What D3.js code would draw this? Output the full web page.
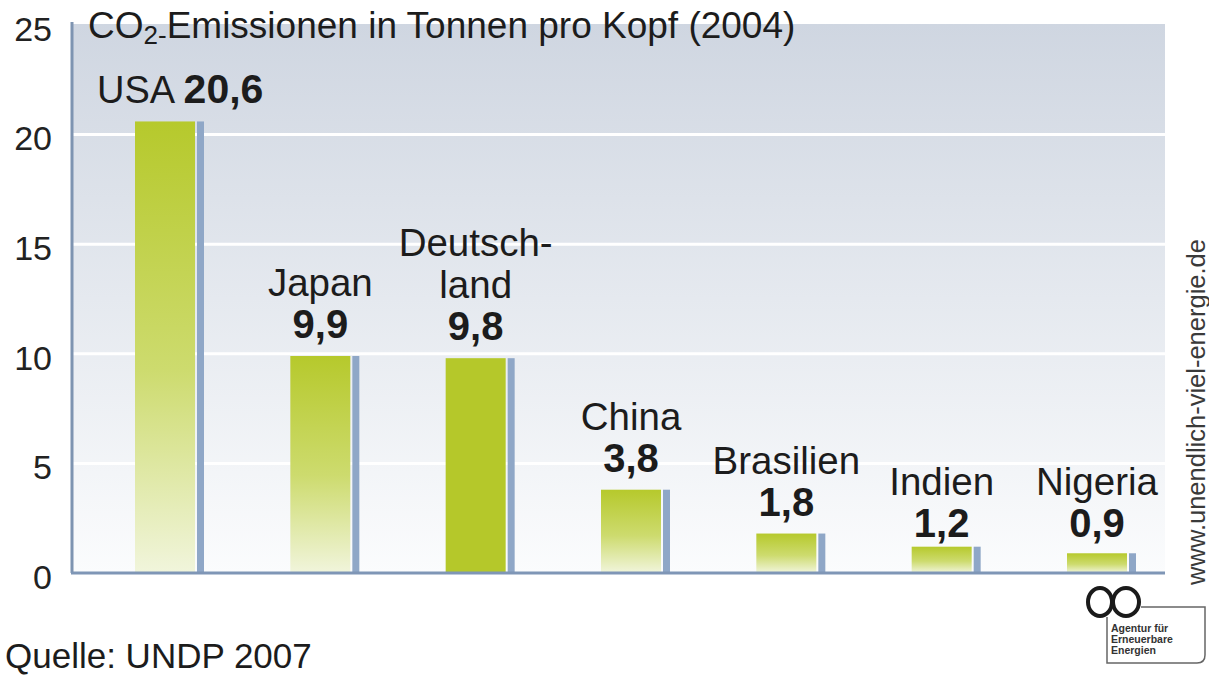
<!DOCTYPE html>
<html>
<head>
<meta charset="utf-8">
<script src="https://cdn.jsdelivr.net/npm/d3@7"></script>
<style>
    body { margin: 0; background: #fff; }
    svg { display: block; font-family: "Liberation Sans", Arial, sans-serif; }
</style>
</head>
<body>
<div id="chart"></div>
<script>
const countries = [`USA`, `Japan`, `Deutschland`, `China`, `Brasilien`, `Indien`, `Nigeria`]
const nameLines = [[`USA`], [`Japan`], [`Deutsch-`, `land`], [`China`], [`Brasilien`], [`Indien`], [`Nigeria`]]
const values = [20.6, 9.9, 9.8, 3.8, 1.8, 1.2, 0.9]
const yTicks = [0, 5, 10, 15, 20, 25]

const width = 1209, height = 675
const plot = { left: 72, right: 1165, top: 24, bottom: 573 }

const de = d3.formatLocale({ decimal: `,`, thousands: `.`, grouping: [3], currency: [``, ` €`] })
const fmt = de.format(`.1f`)

const svg = d3.select(`#chart`).append(`svg`)
    .attr(`width`, width).attr(`height`, height)

const defs = svg.append(`defs`)

const bg = defs.append(`linearGradient`).attr(`id`, `bg`)
    .attr(`x1`, 0).attr(`y1`, 0).attr(`x2`, 0).attr(`y2`, 1)
bg.append(`stop`).attr(`offset`, 0).attr(`stop-color`, `#cfd6e1`)
bg.append(`stop`).attr(`offset`, 0.5).attr(`stop-color`, `#e5e9ef`)
bg.append(`stop`).attr(`offset`, 1).attr(`stop-color`, `#fbfcfd`)

const fade = defs.append(`linearGradient`).attr(`id`, `fade`)
    .attr(`x1`, 0).attr(`y1`, 0).attr(`x2`, 0).attr(`y2`, 1)
fade.append(`stop`).attr(`offset`, 0).attr(`stop-color`, `#b6c92c`)
fade.append(`stop`).attr(`offset`, 0.55).attr(`stop-color`, `#cddb6e`)
fade.append(`stop`).attr(`offset`, 1).attr(`stop-color`, `#f1f5dc`)

const y = d3.scaleLinear().domain([0, 25]).range([plot.bottom, plot.top + 1])
const x = d3.scalePoint().domain(countries).range([165, 1097])

const barW = 60

// plot background
svg.append(`rect`)
    .attr(`x`, plot.left).attr(`y`, plot.top)
    .attr(`width`, plot.right - plot.left).attr(`height`, plot.bottom - plot.top)
    .attr(`fill`, `url(#bg)`)

// white gridlines
svg.append(`g`).selectAll(`line`)
    .data(yTicks.filter(t => t > 0 && t < 25))
    .join(`line`)
    .attr(`x1`, plot.left).attr(`x2`, plot.right)
    .attr(`y1`, d => y(d)).attr(`y2`, d => y(d))
    .attr(`stroke`, `#fff`).attr(`stroke-width`, 3)

// y axis labels
const yAxis = svg.append(`g`)
    .attr(`transform`, `translate(${plot.left},0)`)
    .call(d3.axisLeft(y).tickValues(yTicks).tickSize(0).tickPadding(20).tickFormat(d3.format(`d`)))
yAxis.select(`.domain`).remove()
yAxis.selectAll(`text`)
    .attr(`font-size`, 34).attr(`fill`, `#222`)
    .attr(`font-family`, `"Liberation Sans", Arial, sans-serif`)
    .attr(`dy`, `0.45em`)

svg.append(`line`)
    .attr(`x1`, plot.left).attr(`x2`, plot.left)
    .attr(`y1`, 22).attr(`y2`, plot.bottom)
    .attr(`stroke`, `#7e94b1`).attr(`stroke-width`, 3)

const data = countries.map((c, i) => ({ c, v: values[i], lines: nameLines[i] }))

const bars = svg.append(`g`).selectAll(`g`).data(data).join(`g`)

bars.append(`rect`)
    .attr(`x`, d => x(d.c) - barW / 2)
    .attr(`y`, d => y(d.v))
    .attr(`width`, barW)
    .attr(`height`, d => y(0) - y(d.v))
    .attr(`fill`, d => d.c === `Deutschland` ? `#b5c82a` : `url(#fade)`)

bars.append(`rect`)
    .attr(`x`, d => x(d.c) + barW / 2 + 2)
    .attr(`y`, d => y(d.v))
    .attr(`width`, 7)
    .attr(`height`, d => y(0) - y(d.v))
    .attr(`fill`, `#8fa7c7`)

// baseline
svg.append(`line`)
    .attr(`x1`, plot.left - 1).attr(`x2`, plot.right)
    .attr(`y1`, y(0)).attr(`y2`, y(0))
    .attr(`stroke`, `#7f96b6`).attr(`stroke-width`, 3)

// labels
const valueBase = d => d.v < 1.5 ? y(0) - 36 : y(d.v) - 18

bars.each(function(d) {
    const g = d3.select(this)
    const base = valueBase(d)
    if (d.c === `USA`) {
        const t = g.append(`text`)
            .attr(`x`, x(d.c) - 68).attr(`y`, base)
            .attr(`fill`, `#1c1c1c`)
        t.append(`tspan`).attr(`font-size`, 38).text(d.lines[0] + ` `)
        t.append(`tspan`).attr(`font-size`, 41).attr(`font-weight`, `bold`).text(fmt(d.v))
        return
    }
    g.append(`text`)
        .attr(`x`, x(d.c)).attr(`y`, base)
        .attr(`text-anchor`, `middle`)
        .attr(`font-size`, 40).attr(`font-weight`, `bold`).attr(`fill`, `#1c1c1c`)
        .text(fmt(d.v))
    d.lines.slice().reverse().forEach((line, k) => {
        g.append(`text`)
            .attr(`x`, x(d.c)).attr(`y`, base - 42 * (k + 1))
            .attr(`text-anchor`, `middle`)
            .attr(`font-size`, 38.5).attr(`fill`, `#1c1c1c`)
            .text(line)
    })
})

// title
const title = svg.append(`text`)
    .attr(`x`, 88).attr(`y`, 38)
    .attr(`font-size`, 37).attr(`fill`, `#1c1c1c`)
title.append(`tspan`).text(`CO`)
title.append(`tspan`).attr(`font-size`, 26).attr(`dy`, 6).text(`2-`)
title.append(`tspan`).attr(`dy`, -6).text(`Emissionen in Tonnen pro Kopf (2004)`)

// source
svg.append(`text`)
    .attr(`x`, 5).attr(`y`, 668)
    .attr(`font-size`, 35).attr(`fill`, `#1c1c1c`)
    .text(`Quelle: UNDP 2007`)

// vertical url
svg.append(`text`)
    .attr(`transform`, `translate(1205,412) rotate(-90)`)
    .attr(`text-anchor`, `middle`)
    .attr(`font-size`, 25.5).attr(`fill`, `#3a3a3a`)
    .text(`www.unendlich-viel-energie.de`)

// logo
const logo = svg.append(`g`)
logo.append(`ellipse`).attr(`cx`, 1100).attr(`cy`, 602).attr(`rx`, 12).attr(`ry`, 14)
    .attr(`fill`, `none`).attr(`stroke`, `#1a1a1a`).attr(`stroke-width`, 4)
logo.append(`ellipse`).attr(`cx`, 1126).attr(`cy`, 602).attr(`rx`, 13).attr(`ry`, 14)
    .attr(`fill`, `none`).attr(`stroke`, `#1a1a1a`).attr(`stroke-width`, 4)
logo.append(`path`)
    .attr(`d`, `M1141,607 H1205 V655 Q1205,663 1197,663 H1107 V617`)
    .attr(`fill`, `none`).attr(`stroke`, `#666`).attr(`stroke-width`, 1.5)
;[`Agentur für`, `Erneuerbare`, `Energien`].forEach((t, i) => {
    logo.append(`text`)
        .attr(`x`, 1111).attr(`y`, 632 + i * 11)
        .attr(`font-size`, 10.5).attr(`font-weight`, `bold`).attr(`fill`, `#333`)
        .text(t)
})
</script>
</body>
</html>
